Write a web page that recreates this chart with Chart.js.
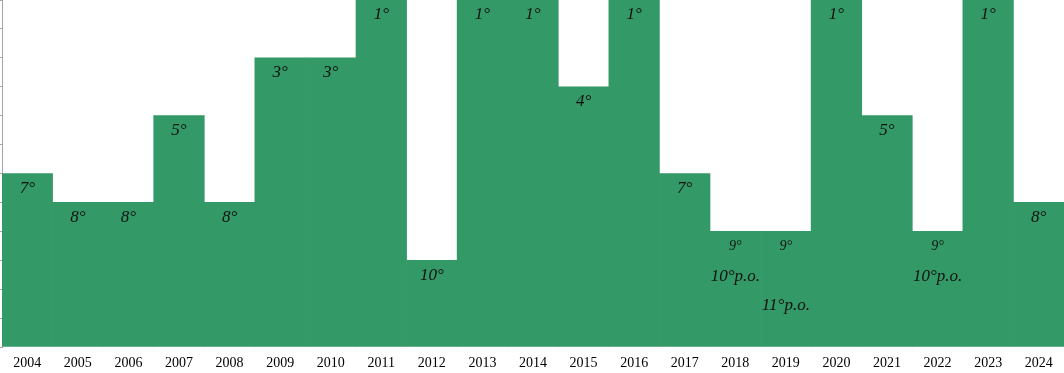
<!DOCTYPE html>
<html>
<head>
<meta charset="utf-8">
<script src="https://cdn.jsdelivr.net/npm/chart.js@4.4.1/dist/chart.umd.min.js"></script>
<style>
  html, body { margin: 0; padding: 0; background: #fff; }
  #wrap { width: 1064px; height: 373px; }
</style>
</head>
<body>
<div id="wrap"><canvas id="myChart"></canvas></div>
<script>
// seasons and final league position
const years = ["2004","2005","2006","2007","2008","2009","2010","2011","2012","2013","2014",
  "2015","2016","2017","2018","2019","2020","2021","2022","2023","2024"];
const ranks = [7, 8, 8, 5, 8, 3, 3, 1, 10, 1, 1, 4, 1, 7, 9, 9, 1, 5, 9, 1, 8];
// final position after play-offs (null = none)
const playoffRanks = [null, null, null, null, null, null, null, null, null, null, null,
  null, null, null, 10, 11, null, null, 10, null, null];

const BOTTOM_RANK = 13; // axis runs from rank 1 (top) to rank 13 (bottom)
const heights = ranks.map(r => BOTTOM_RANK - r);

const labelFont = "italic 17px 'Liberation Serif'";
const smallFont = "italic 14px 'Liberation Serif'";

const rankLabels = {
  id: 'rankLabels',
  afterDatasetsDraw(chart) {
    const ctx = chart.ctx;
    const yScale = chart.scales.y;
    const bars = chart.getDatasetMeta(0).data;
    ctx.save();
    ctx.fillStyle = '#111';
    ctx.textAlign = 'center';
    ctx.textBaseline = 'middle';
    bars.forEach((bar, i) => {
      const po = playoffRanks[i];
      if (po) {
        ctx.font = smallFont;
        ctx.fillText(ranks[i] + '°', bar.x, bar.y + 15);
        ctx.font = labelFont;
        ctx.fillText(po + '°p.o.', bar.x, yScale.getPixelForValue(BOTTOM_RANK - po) + 16);
      } else {
        ctx.font = labelFont;
        ctx.fillText(ranks[i] + '°', bar.x, bar.y + 15);
      }
    });
    ctx.restore();
  }
};

new Chart(document.getElementById('myChart'), {
  type: 'bar',
  data: {
    labels: years,
    datasets: [{
      data: heights,
      backgroundColor: '#339966',
      borderWidth: 0,
      barPercentage: 1,
      categoryPercentage: 1
    }]
  },
  options: {
    responsive: true,
    maintainAspectRatio: false,
    animation: false,
    layout: { padding: 0 },
    plugins: {
      legend: { display: false },
      tooltip: { enabled: false }
    },
    scales: {
      x: {
        grid: { display: false },
        border: { display: false },
        ticks: {
          color: '#000',
          font: { family: 'Liberation Serif', size: 14 },
          padding: 0,
          maxRotation: 0,
          autoSkip: false
        },
        afterFit: (scale) => { scale.height = 26; }
      },
      y: {
        min: 0,
        max: 12,
        ticks: { display: false, stepSize: 1 },
        grid: { drawOnChartArea: false, tickLength: 2, color: '#a6a6a6' },
        border: { display: true, color: '#a6a6a6', width: 1 }
      }
    }
  },
  plugins: [rankLabels]
});
</script>
</body>
</html>
